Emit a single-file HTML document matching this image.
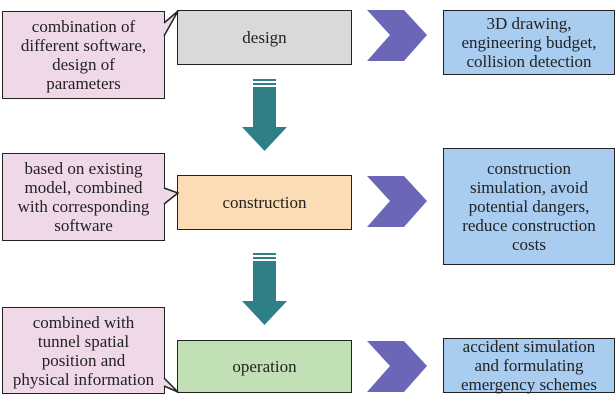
<!DOCTYPE html>
<html><head><style>
body{margin:0;width:616px;height:407px;background:#fff;position:relative;overflow:hidden;font-family:"Liberation Serif","Times New Roman","DejaVu Serif",serif;color:#222}
.b{position:absolute;box-sizing:border-box;border:1.5px solid #222;display:flex;align-items:center;justify-content:center;text-align:center;font-size:17px;line-height:19px;font-family:"Liberation Serif","Times New Roman","DejaVu Serif",serif;white-space:nowrap}
.p{background:#efd9e8}
.bl{background:#a9cdf0}
svg{position:absolute;left:0;top:0}
</style></head><body>
<svg width="616" height="407">
<defs><g id="ar"><rect x="253" y="0" width="23" height="2" fill="#2f7f88"/><rect x="253" y="4" width="23" height="2" fill="#2f7f88"/><rect x="253" y="8" width="23" height="41" fill="#2f7f88"/><polygon points="242,48 287,48 264.5,72" fill="#2f7f88"/></g>
<polygon id="ch" points="0,0 37,0 60,25 37,51 0,51 23,25" fill="#6b66b8"/></defs>
<use href="#ar" y="79"/><use href="#ar" y="253"/>
<use href="#ch" x="367" y="10"/><use href="#ch" x="367" y="176"/><use href="#ch" x="367" y="341"/>
</svg>
<div class="b p" style="left:2px;top:11px;width:163px;height:88px">combination of<br>different software,<br>design of<br>parameters</div>
<div class="b" style="left:177px;top:10px;width:175px;height:55px;background:#d9d9d9">design</div>
<div class="b bl" style="left:443px;top:10px;width:172px;height:65px">3D drawing,<br>engineering budget,<br>collision detection</div>
<div class="b p" style="left:2px;top:153px;width:163px;height:88px">based on existing<br>model, combined<br>with corresponding<br>software</div>
<div class="b" style="left:177px;top:175px;width:175px;height:55px;background:#fbdcb5">construction</div>
<div class="b bl" style="left:443px;top:148px;width:172px;height:117px">construction<br>simulation, avoid<br>potential dangers,<br>reduce construction<br>costs</div>
<div class="b p" style="left:2px;top:307px;width:163px;height:87px">combined with<br>tunnel spatial<br>position and<br>physical information</div>
<div class="b" style="left:177px;top:340px;width:175px;height:53px;background:#c2e0b6">operation</div>
<div class="b bl" style="left:443px;top:338px;width:172px;height:55px">accident simulation<br>and formulating<br>emergency schemes</div>
<svg width="616" height="407" style="pointer-events:none">
<polyline points="164,23 178,11 164,36" fill="#efd9e8" stroke="#222" stroke-width="1.5"/>
<polyline points="164,188 178,193 164,204" fill="#efd9e8" stroke="#222" stroke-width="1.5"/>
<polyline points="164,378 178,392 164,386" fill="#efd9e8" stroke="#222" stroke-width="1.5"/>
</svg>
</body></html>
